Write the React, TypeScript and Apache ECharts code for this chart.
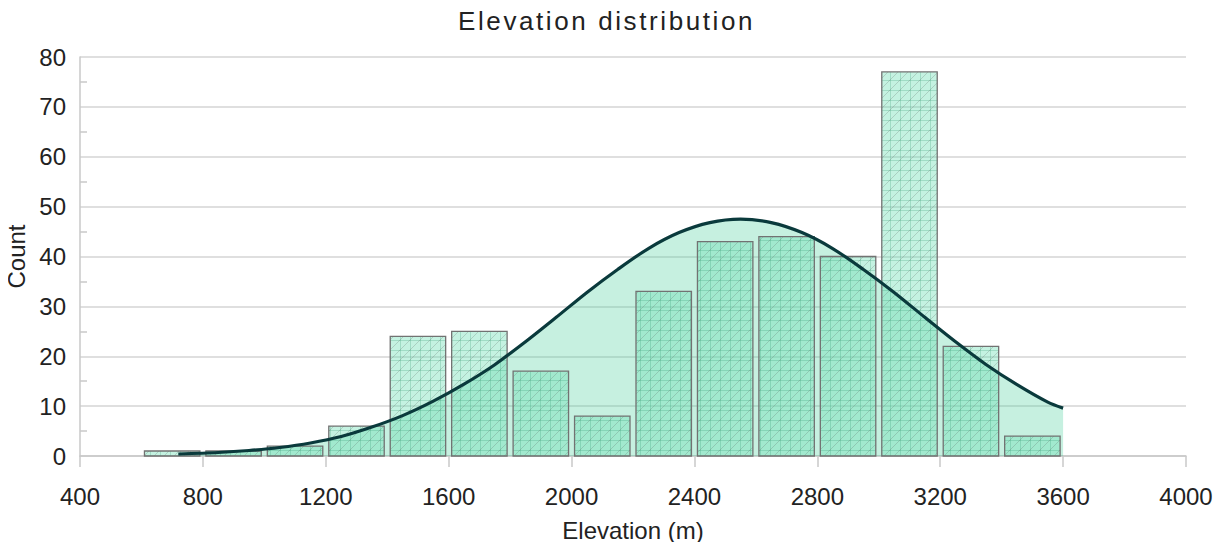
import React, { useEffect, useRef } from "react";
import * as echarts from "echarts";

// ---- data ----
const TITLE = "Elevation distribution";
const X_NAME = "Elevation (m)";
const Y_NAME = "Count";

const binStarts = [600, 800, 1000, 1200, 1400, 1600, 1800, 2000, 2200, 2400, 2600, 2800, 3000, 3200, 3400];
const binWidth = 200;
const counts = [1, 1, 2, 6, 24, 25, 17, 8, 33, 43, 44, 40, 77, 22, 4];

const curveX = [720, 850, 950, 1050, 1150, 1250, 1350, 1450, 1550, 1650, 1750, 1850, 1950, 2050, 2150, 2250, 2350, 2450, 2550, 2650, 2750, 2850, 2950, 3050, 3150, 3250, 3350, 3450, 3550, 3600];
const curveY = [0.4, 0.7, 1.1, 1.7, 2.6, 3.9, 5.8, 8.1, 11.0, 14.4, 18.3, 22.9, 27.8, 32.8, 37.4, 41.6, 44.8, 46.8, 47.5, 46.8, 44.8, 41.6, 37.4, 32.8, 27.8, 22.9, 18.3, 14.3, 10.8, 9.6];

const xMin = 400;
const xMax = 4000;
const xInterval = 400;
const yMin = 0;
const yMax = 80;
const yInterval = 10;

const FONT = "'Liberation Sans', Arial, sans-serif";

function makePattern() {
  const size = 10;
  const c = document.createElement("canvas");
  c.width = size;
  c.height = size;
  const ctx = c.getContext("2d")!;
  ctx.fillStyle = "rgba(100,220,175,0.38)";
  ctx.fillRect(0, 0, size, size);
  ctx.lineWidth = 1;
  ctx.strokeStyle = "rgba(50,150,110,0.25)";
  ctx.beginPath();
  ctx.moveTo(0.5, 0);
  ctx.lineTo(0.5, size);
  ctx.moveTo(0, 0.5);
  ctx.lineTo(size, 0.5);
  ctx.stroke();
  ctx.strokeStyle = "rgba(90,100,95,0.25)";
  ctx.beginPath();
  ctx.moveTo(0, size);
  ctx.lineTo(size, 0);
  ctx.stroke();
  return { image: c, repeat: "repeat", imageWidth: size, imageHeight: size };
}

export default function App() {
  const ref = useRef<HTMLDivElement>(null);
  useEffect(() => {
    if (!ref.current) return;
    const chart = echarts.init(ref.current, undefined, { renderer: "svg" });
    const pattern = makePattern();
    const barData = binStarts.map((s, i) => [s, s + binWidth, counts[i]]);
    const curveData = curveX.map((x, i) => [x, curveY[i]]);

    chart.setOption({
      animation: false,
      textStyle: { fontFamily: FONT },
      title: {
        text: TITLE,
        left: 458,
        top: 8,
        padding: 0,
        textStyle: { fontFamily: FONT, fontSize: 26, fontWeight: "normal", color: "#222" },
      },
      grid: { left: 80, right: 38, top: 57, bottom: 94, containLabel: false, outerBoundsMode: "none" },
      xAxis: {
        type: "value",
        min: xMin,
        max: xMax,
        interval: xInterval,
        name: X_NAME,
        nameLocation: "middle",
        nameGap: 62,
        nameTextStyle: { fontSize: 24, color: "#222", fontFamily: FONT },
        axisLine: { show: true, lineStyle: { color: "#c8c8c8", width: 1.5 } },
        axisTick: { show: true, length: 11, lineStyle: { color: "#c8c8c8", width: 1.5 } },
        axisLabel: {
          fontSize: 24,
          color: "#222",
          margin: 28,
          fontFamily: FONT,
          formatter: (v: number) => String(v),
        },
        splitLine: { show: false },
      },
      yAxis: {
        type: "value",
        min: yMin,
        max: yMax,
        interval: yInterval,
        name: Y_NAME,
        nameLocation: "middle",
        nameGap: 45,
        nameTextStyle: { fontSize: 24, color: "#222", fontFamily: FONT },
        axisLine: { show: true, lineStyle: { color: "#c8c8c8", width: 1.5 } },
        axisTick: { show: false, inside: true },
        minorTick: { show: true, splitNumber: 2, length: 7, lineStyle: { color: "#c8c8c8", width: 1.5 } },
        axisLabel: { fontSize: 24, color: "#222", margin: 14, fontFamily: FONT },
        splitLine: { show: true, lineStyle: { color: "#d4d4d4", width: 1.5 } },
      },
      series: [
        {
          type: "line",
          data: curveData,
          smooth: 0.3,
          showSymbol: false,
          symbol: "none",
          lineStyle: { width: 0 },
          areaStyle: { color: "rgba(70,205,155,0.44)", origin: "start" },
          z: 1,
          silent: true,
        },
        {
          type: "custom",
          data: barData,
          encode: { x: [0, 1], y: 2 },
          z: 2,
          renderItem: (params: any, api: any) => {
            const x0 = api.value(0);
            const x1 = api.value(1);
            const v = api.value(2);
            const p0 = api.coord([x0, 0]);
            const p1 = api.coord([x1, v]);
            const gap = 3;
            return {
              type: "rect",
              shape: {
                x: p0[0] + gap,
                y: p1[1],
                width: p1[0] - p0[0] - 2 * gap,
                height: p0[1] - p1[1],
              },
              style: { fill: pattern, stroke: "#727272", lineWidth: 1.3 },
            };
          },
        },
        {
          type: "line",
          data: curveData,
          smooth: 0.3,
          showSymbol: false,
          symbol: "none",
          lineStyle: { width: 3.2, color: "#0a3a3c" },
          z: 3,
          silent: true,
        },
      ],
    });

    const applySpacing = () => {
      if (!ref.current) return;
      ref.current.querySelectorAll("text").forEach((t) => {
        if (t.textContent === TITLE) t.setAttribute("letter-spacing", "2.6");
      });
    };
    applySpacing();
    chart.on("finished", applySpacing);
    const tm = setTimeout(applySpacing, 50);

    return () => {
      clearTimeout(tm);
      chart.dispose();
    };
  }, []);

  return <div ref={ref} style={{ width: 1224, height: 550, margin: -8 }} />;
}
